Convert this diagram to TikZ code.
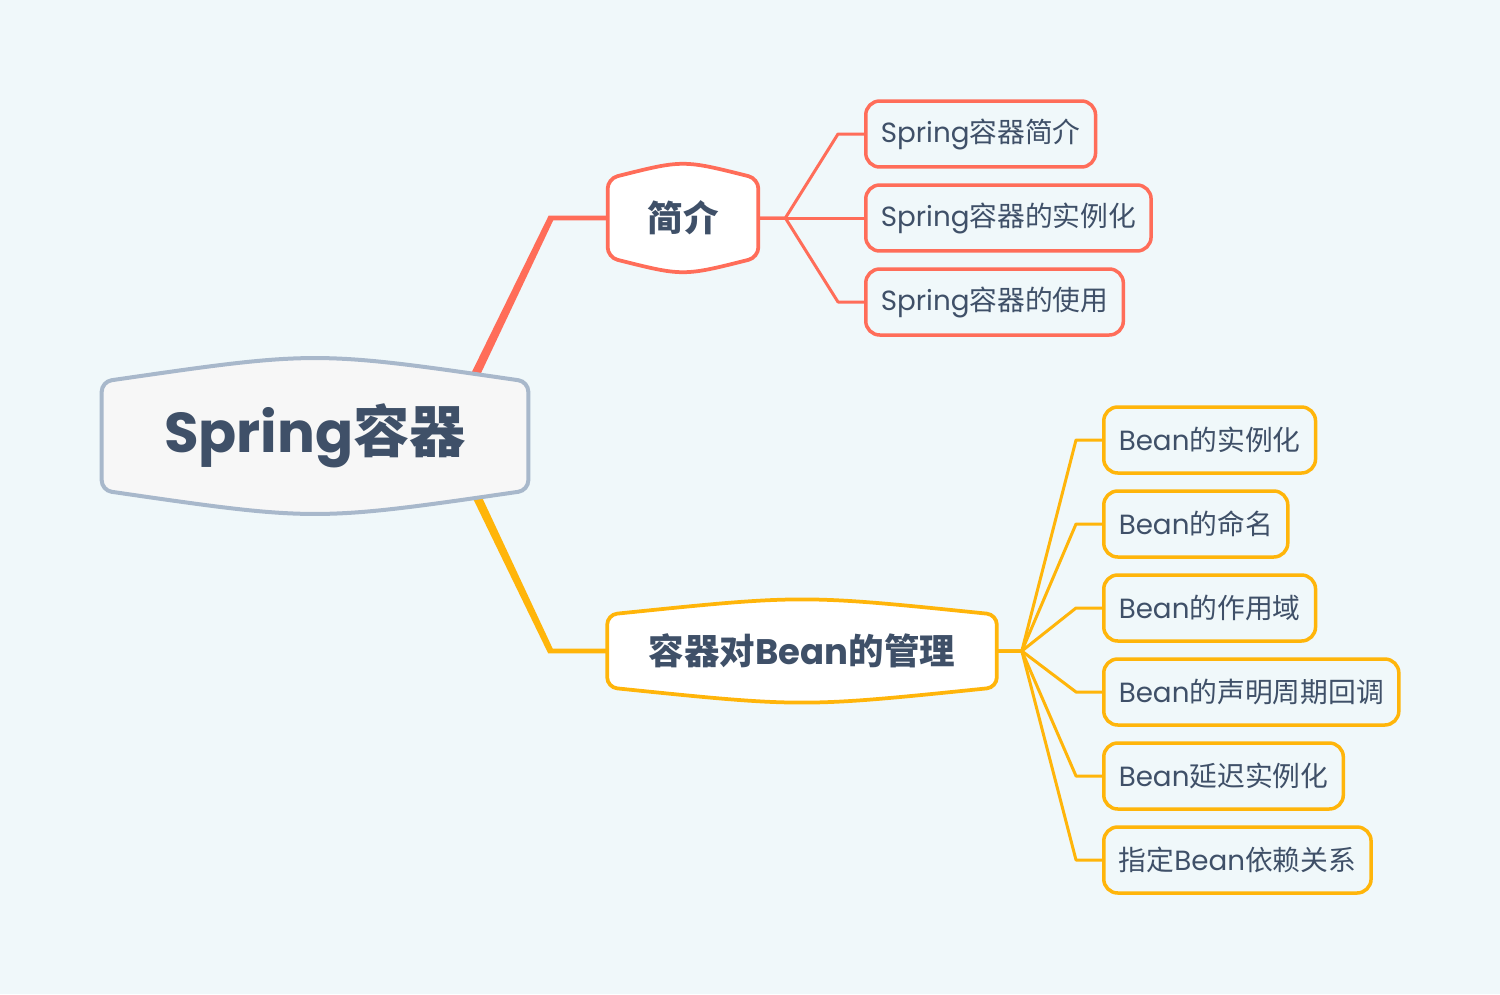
\documentclass[tikz,border=0pt]{standalone}
\usepackage{fontspec}
\setmainfont{Poppins}
\newfontfamily\cjk{Noto Sans CJK SC}
\usetikzlibrary{calc,backgrounds}

\definecolor{bgcol}{RGB}{240,248,250}
\definecolor{txtcol}{RGB}{63,80,104}
\definecolor{coral}{RGB}{255,109,89}
\definecolor{amber}{RGB}{255,181,10}
\definecolor{rootline}{RGB}{168,184,203}
\definecolor{rootfill}{RGB}{247,247,247}

\newcommand\zh[1]{{\cjk #1}}
% box with bulging top and bottom, round the named node
\newcommand\bulgepath[2]{(#1.west) -- (#1.south west)
    .. controls ($(#1.south)+(0,#2)$) .. (#1.south east)
    -- (#1.north east)
    .. controls ($(#1.north)+(0,-#2)$) .. (#1.north west) -- cycle}

\begin{document}
\begin{tikzpicture}[x=0.02cm,y=-0.02cm,
        leaf/.style={
            draw,
            line width=0.07cm,
            rounded corners=0.28cm,
            fill=bgcol,
            text=txtcol,
            anchor=west,
            minimum height=1.32cm,
            inner xsep=0.3cm,
            font=\fontsize{15.8}{19}\selectfont
        },
        topic/.style={
            text=txtcol,
            font=\bfseries\fontsize{20.2}{24}\selectfont
        },
        twig/.style={line width=0.06cm, line join=round}
    ]
    \useasboundingbox (0,0) rectangle (1500,994);

    \node[
        text=txtcol,
        font=\bfseries\fontsize{32}{38}\selectfont,
        minimum width=8.52cm,
        minimum height=2.16cm,
        name=root
    ] at (315,436) {Spring\zh{容器}};

    \node[
        topic,
        minimum width=3cm,
        minimum height=1.56cm,
        name=jj
    ] at (683,218) {\zh{简介}};
    \node[
        topic,
        minimum width=7.78cm,
        minimum height=1.44cm,
        name=gl
    ] at (802,651) {\zh{容器对}Bean\zh{的管理}};

    \node[leaf, draw=coral, name=s1] at (864,134) {Spring\zh{容器简介}};
    \node[leaf, draw=coral, name=s2] at (864,218) {Spring\zh{容器的实例化}};
    \node[leaf, draw=coral, name=s3] at (864,302) {Spring\zh{容器的使用}};

    \node[leaf, draw=amber, name=b1] at (1102,440) {Bean\zh{的实例化}};
    \node[leaf, draw=amber, name=b2] at (1102,524) {Bean\zh{的命名}};
    \node[leaf, draw=amber, name=b3] at (1102,608) {Bean\zh{的作用域}};
    \node[leaf, draw=amber, name=b4] at (1102,692) {Bean\zh{的声明周期回调}};
    \node[leaf, draw=amber, name=b5] at (1102,776) {Bean\zh{延迟实例化}};
    \node[leaf, draw=amber, name=b6] at (1102,860) {\zh{指定}Bean\zh{依赖关系}};

    \coordinate (jf) at ($(jj.east)+(27,0)$);
    \coordinate (gf) at ($(gl.east)+(25,0)$);

    \begin{scope}[on background layer]
        \fill[bgcol] (0,0) rectangle (1500,994);

        % tapered main branches
        \fill[coral] (465,386) -- ($(jj.west)+(-59,-2.4)$)
            -- ($(jj.west)+(2,-2.4)$) -- ($(jj.west)+(2,2.4)$)
            -- ($(jj.west)+(-54.5,2.4)$) -- (473,390) -- cycle;
        \fill[amber] (465,482) -- ($(gl.west)+(-59,2.4)$)
            -- ($(gl.west)+(2,2.4)$) -- ($(gl.west)+(2,-2.4)$)
            -- ($(gl.west)+(-54.5,-2.4)$) -- (473,478) -- cycle;

        \foreach \n in {s1,s2,s3}
            \draw[twig, coral] (jj.east) -- (jf) -- ($(\n.west)+(-26,0)$) -- (\n.west);
        \foreach \n in {b1,b2,b3,b4,b5,b6}
            \draw[twig, amber] (gl.east) -- (gf) -- ($(\n.west)+(-26,0)$) -- (\n.west);

        \draw[line width=0.08cm, rounded corners=0.2cm, draw=rootline, fill=rootfill]
            \bulgepath{root}{31};
        \draw[line width=0.075cm, rounded corners=0.2cm, draw=coral, fill=white]
            \bulgepath{jj}{19};
        \draw[line width=0.075cm, rounded corners=0.2cm, draw=amber, fill=white]
            \bulgepath{gl}{20};
    \end{scope}
\end{tikzpicture}
\end{document}
